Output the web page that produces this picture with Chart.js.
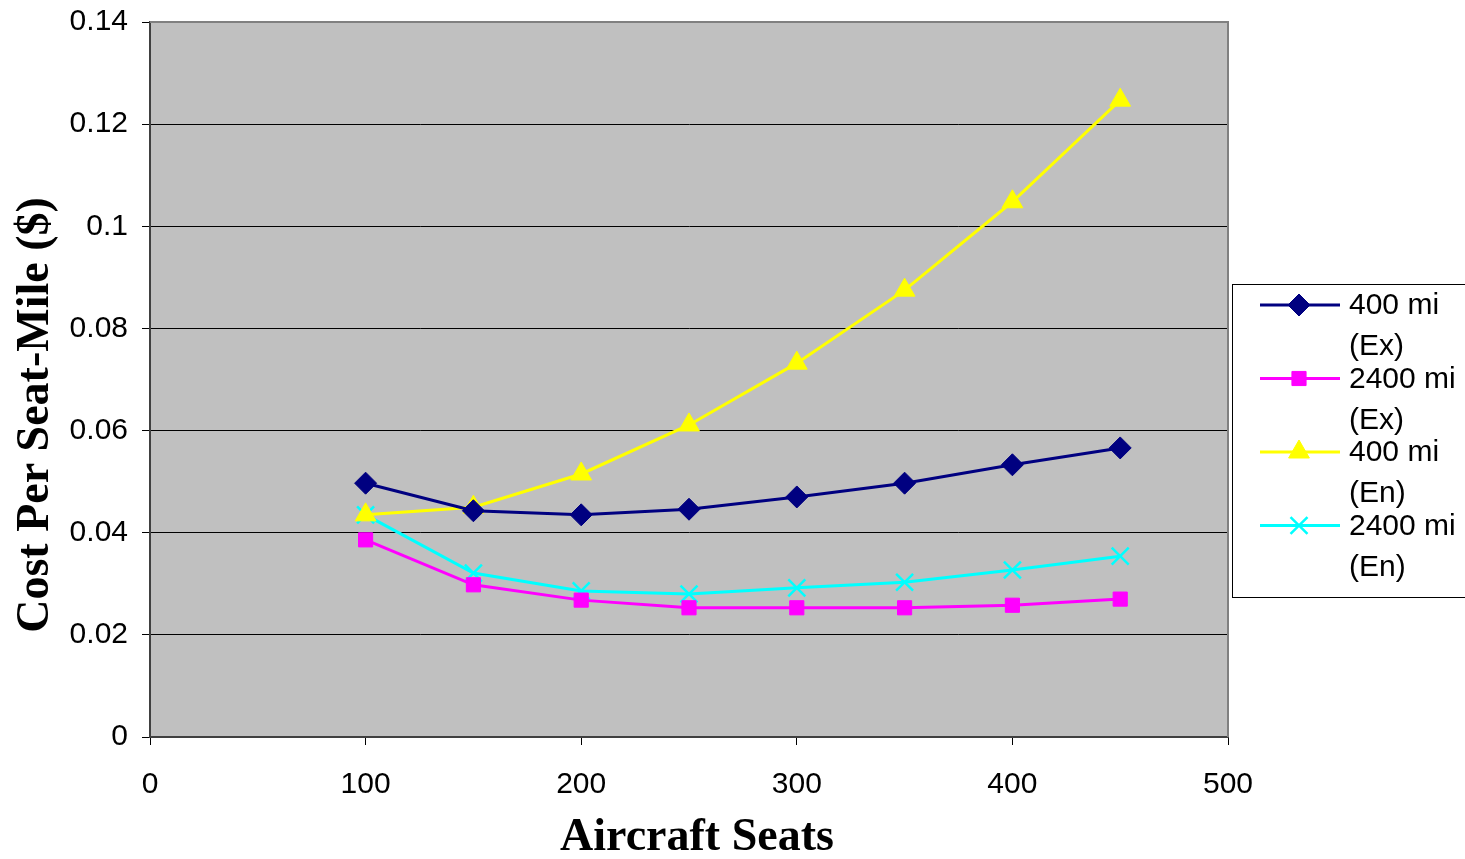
<!DOCTYPE html>
<html>
<head>
<meta charset="utf-8">
<script src="https://cdn.jsdelivr.net/npm/chart.js@4/dist/chart.umd.min.js"></script>
<style>
  html, body { margin: 0; padding: 0; background: #fff; }
  #wrap { width: 1465px; height: 859px; }
</style>
</head>
<body>
<div id="wrap"><canvas id="costChart" width="1465" height="859"></canvas></div>
<script>
// Data
const seats = [100, 150, 200, 250, 300, 350, 400, 450];
const cost400Ex = [0.0497, 0.0443, 0.0435, 0.0446, 0.0470, 0.0497, 0.0533, 0.0566];
const cost2400Ex = [0.0386, 0.0298, 0.0268, 0.0253, 0.0253, 0.0253, 0.0258, 0.0270];
const cost400En = [0.0435, 0.0450, 0.0515, 0.0611, 0.0732, 0.0875, 0.1048, 0.1247];
const cost2400En = [0.0435, 0.0321, 0.0286, 0.0280, 0.0292, 0.0303, 0.0327, 0.0354];
const seriesLabels = [['400 mi', '(Ex)'], ['2400 mi', '(Ex)'], ['400 mi', '(En)'], ['2400 mi', '(En)']];
const xTitle = 'Aircraft Seats';
const yTitle = 'Cost Per Seat-Mile ($)';

const toPoints = vals => vals.map((v, i) => ({ x: seats[i], y: v }));

const tickFont = { family: 'Liberation Sans, Arial, sans-serif', size: 30 };
const titleFontCss = 'bold 46px Liberation Serif, Times New Roman, serif';

// plot area background + border
const plotBg = {
    id: 'plotBg',
    beforeDraw(chart) {
        const { ctx, chartArea: a } = chart;
        ctx.save();
        ctx.fillStyle = '#c0c0c0';
        ctx.fillRect(a.left, a.top, a.right - a.left, a.bottom - a.top);
        ctx.restore();
    },
    afterDatasetsDraw(chart) {
        const { ctx, chartArea: a } = chart;
        ctx.save();
        ctx.strokeStyle = '#808080';
        ctx.lineWidth = 2;
        ctx.beginPath();
        ctx.moveTo(a.left, a.top);
        ctx.lineTo(a.right, a.top);
        ctx.lineTo(a.right, a.bottom);
        ctx.stroke();
        ctx.restore();
    }
};

// axis titles, placed like in the original
const axisTitles = {
    id: 'axisTitles',
    afterDraw(chart) {
        const ctx = chart.ctx;
        ctx.save();
        ctx.fillStyle = '#000';
        ctx.font = titleFontCss;
        ctx.textAlign = 'center';
        ctx.textBaseline = 'middle';
        ctx.fillText(xTitle, 697, 838);
        ctx.translate(36, 415);
        ctx.rotate(-Math.PI / 2);
        ctx.fillText(yTitle, 0, 0);
        ctx.restore();
    }
};

// legend box on the right, like the original
const sideLegend = {
    id: 'sideLegend',
    afterDraw(chart) {
        const ctx = chart.ctx;
        const box = { x: 1232, y: 284, w: 240, h: 313 };
        ctx.save();
        ctx.fillStyle = '#fff';
        ctx.fillRect(box.x, box.y, box.w, box.h);
        ctx.strokeStyle = '#000';
        ctx.lineWidth = 1;
        ctx.strokeRect(box.x + 0.5, box.y + 0.5, box.w, box.h);

        ctx.textBaseline = 'middle';
        ctx.textAlign = 'left';
        chart.data.datasets.forEach((ds, i) => {
            const y = 305 + i * 73.5;
            ctx.strokeStyle = ds.borderColor;
            ctx.lineWidth = 3;
            ctx.beginPath();
            ctx.moveTo(1260, y);
            ctx.lineTo(1340, y);
            ctx.stroke();
            ctx.fillStyle = ds.pointBackgroundColor;
            ctx.strokeStyle = ds.pointBorderColor;
            ctx.lineWidth = ds.pointBorderWidth || 1;
            Chart.helpers.drawPoint(ctx, {
                pointStyle: ds.pointStyle,
                radius: ds.pointRadius,
                borderWidth: ds.pointBorderWidth || 1,
                rotation: 0
            }, 1299, y);
            ctx.fillStyle = '#000';
            ctx.font = '30px Liberation Sans, Arial, sans-serif';
            ds.label.forEach((line, j) => ctx.fillText(line, 1349, y + 1 + j * 41));
        });
        ctx.restore();
    }
};

const makeSet = (label, vals, color, style, radius, bw) => ({
    label: label,
    data: toPoints(vals),
    borderColor: color,
    backgroundColor: color,
    pointBackgroundColor: color,
    pointBorderColor: color,
    pointStyle: style,
    pointRadius: radius,
    pointHoverRadius: radius,
    pointBorderWidth: bw,
    borderWidth: 3,
    tension: 0
});

const ctx = document.getElementById('costChart').getContext('2d');
new Chart(ctx, {
    type: 'line',
    data: {
        datasets: [
            makeSet(seriesLabels[0], cost400Ex, '#000080', 'rectRot', 11, 1),
            makeSet(seriesLabels[1], cost2400Ex, '#ff00ff', 'rect', 10, 1),
            makeSet(seriesLabels[2], cost400En, '#ffff00', 'triangle', 12, 1),
            makeSet(seriesLabels[3], cost2400En, '#00ffff', 'crossRot', 12, 2.5)
        ]
    },
    options: {
        responsive: false,
        animation: false,
        layout: { padding: { top: 22, right: 237, left: 0, bottom: 0 } },
        plugins: {
            legend: { display: false },
            tooltip: { enabled: false }
        },
        scales: {
            x: {
                type: 'linear',
                min: 0,
                max: 500,
                afterFit: s => { s.height = 122; },
                ticks: { stepSize: 100, color: '#000', font: tickFont, padding: 22, maxRotation: 0 },
                grid: { drawOnChartArea: false, drawTicks: true, tickLength: 8, color: '#000' },
                border: { color: '#404040', width: 2 }
            },
            y: {
                min: 0,
                max: 0.14,
                afterFit: s => { s.width = 150; s.paddingTop = 0; s.paddingBottom = 0; },
                ticks: {
                    stepSize: 0.02,
                    color: '#000',
                    font: tickFont,
                    padding: 14,
                    callback: v => (Math.round(v * 100) / 100).toString()
                },
                grid: { color: '#000', lineWidth: 1, tickLength: 8, drawTicks: true },
                border: { color: '#404040', width: 2 }
            }
        }
    },
    plugins: [plotBg, axisTitles, sideLegend]
});
</script>
</body>
</html>
